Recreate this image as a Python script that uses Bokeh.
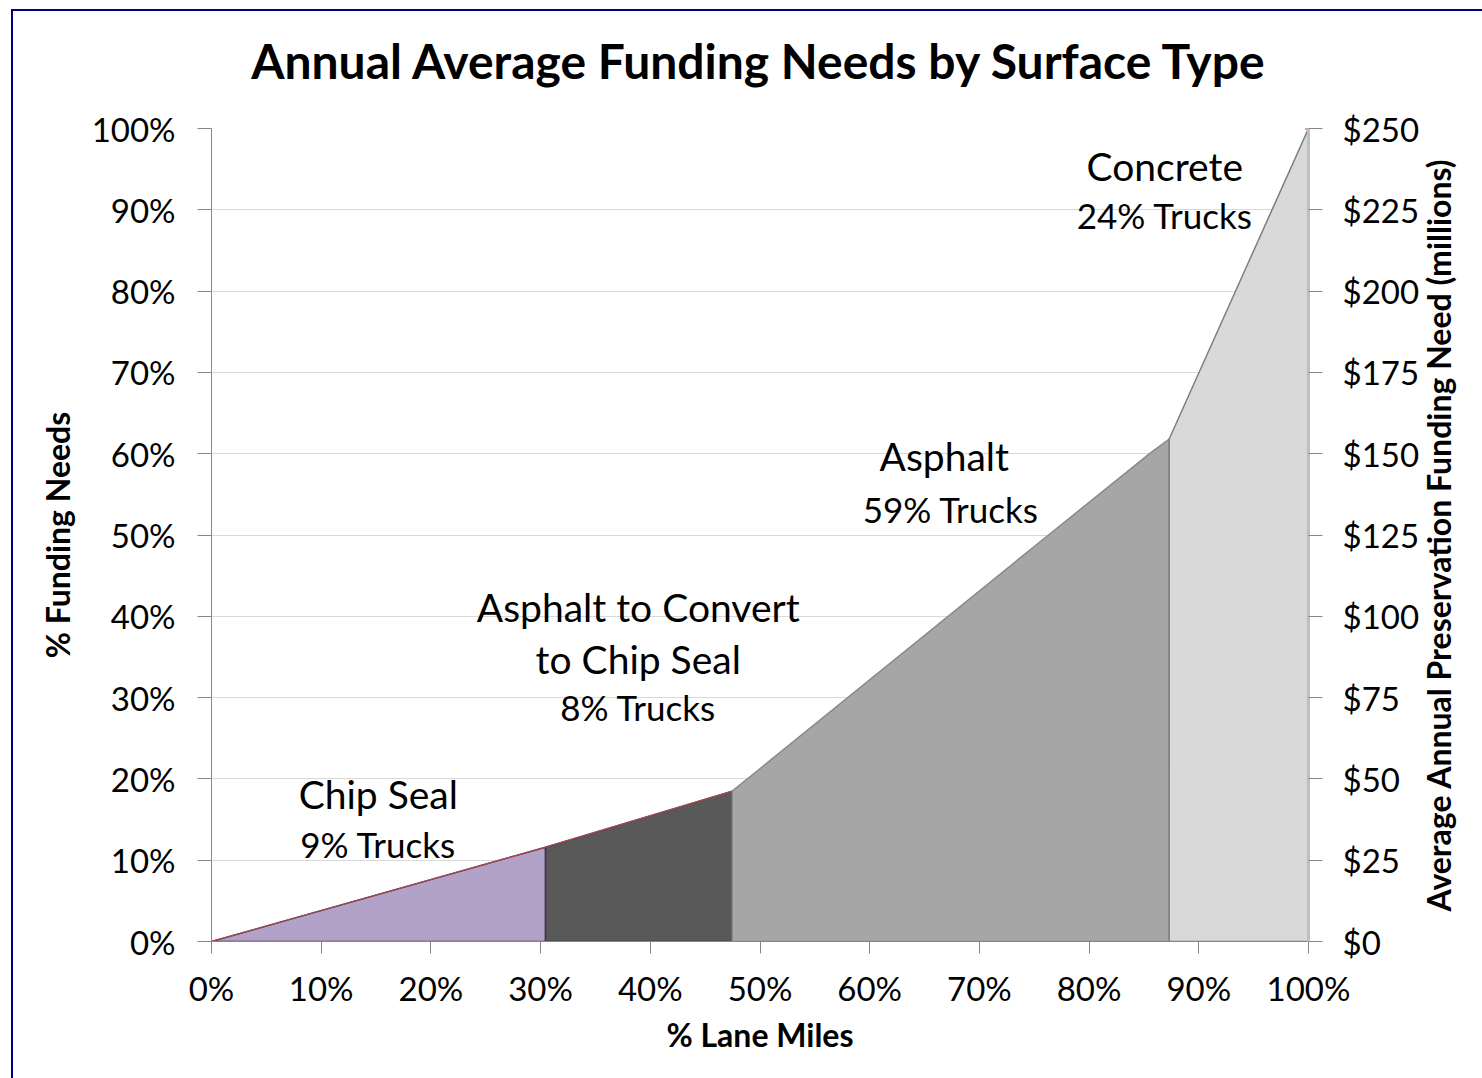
import math
from bokeh.plotting import figure
from bokeh.models import LinearAxis, Range1d, PrintfTickFormatter, NumeralTickFormatter, FixedTicker
from bokeh.core.properties import value
from bokeh.embed import file_html
from bokeh.resources import INLINE

# ---- data ----
chip_x = [0.0, 30.45]
chip_y = [0.0, 11.6]
convert_x = [30.45, 47.47]
convert_y = [11.6, 18.5]
asphalt_x = [47.47, 76.3, 85.6, 87.3]
asphalt_y = [18.5, 50.0, 60.1, 61.8]
concrete_x = [87.3, 100.0]
concrete_y = [61.8, 100.0]

pct_ticks = [0, 10, 20, 30, 40, 50, 60, 70, 80, 90, 100]
usd_ticks = [0, 25, 50, 75, 100, 125, 150, 175, 200, 225, 250]

labels_text = ["Chip Seal", "9% Trucks",
               "Asphalt to Convert", "to Chip Seal", "8% Trucks",
               "Asphalt", "59% Trucks",
               "Concrete", "24% Trucks"]
labels_x = [15.2, 15.2, 38.9, 38.9, 38.9, 66.8, 67.4, 86.9, 86.9]
labels_y = [18.1, 12.05, 41.2, 34.8, 28.8, 59.7, 53.2, 95.4, 89.4]

title_text = "Annual Average Funding Needs by Surface Type"
right_label_text = "Average Annual Preservation Funding Need (millions)"

FONT = "Lato"

p = figure(frame_width=1097, frame_height=813,
           x_range=Range1d(0, 100), y_range=Range1d(0, 100),
           output_backend="svg", toolbar_location=None,
           min_border_left=198, min_border_right=174,
           min_border_top=117, min_border_bottom=137)
p.margin = (9, 0, 0, 11)
p.styles = {"border-top": "2px solid #000080", "border-left": "2px solid #000080"}
p.outline_line_color = None
p.background_fill_color = "white"
p.border_fill_color = "white"

p.extra_y_ranges = {"usd": Range1d(0, 250)}

AX = "#868686"
for ax in (p.xaxis[0], p.yaxis[0]):
    ax.axis_line_color = AX
    ax.major_tick_line_color = AX
    ax.minor_tick_line_color = None
    ax.major_tick_in = 0
    ax.major_label_text_font = FONT
    ax.major_label_text_font_size = "33px"
    ax.major_label_text_color = "black"
    ax.axis_label_text_font = FONT
    ax.axis_label_text_font_style = "bold"
    ax.axis_label_text_font_size = "32px"
    ax.axis_label_text_color = "black"
    ax.ticker = FixedTicker(ticks=pct_ticks)
    ax.formatter = PrintfTickFormatter(format="%d%%")

p.xaxis[0].major_tick_out = 12
p.xaxis[0].major_label_standoff = 14
p.xaxis[0].axis_label = "% Lane Miles"
p.xaxis[0].axis_label_standoff = 4
p.yaxis[0].major_tick_out = 14
p.yaxis[0].major_label_standoff = 22
p.yaxis[0].axis_label = "% Funding Needs"
p.yaxis[0].axis_label_standoff = 12

ra = LinearAxis(y_range_name="usd", ticker=FixedTicker(ticks=usd_ticks),
                formatter=NumeralTickFormatter(format="$0"))
ra.axis_line_color = "#bfbfbf"
ra.axis_line_width = 3
ra.major_tick_line_color = AX
ra.minor_tick_line_color = None
ra.major_tick_in = 0
ra.major_tick_out = 14
ra.major_label_standoff = 20
ra.major_label_text_font = FONT
ra.major_label_text_font_size = "33px"
ra.major_label_text_color = "black"
ra.axis_label_text_font = FONT
ra.axis_label_text_font_style = "bold"
ra.axis_label_text_font_size = "32px"
ra.axis_label_text_color = "black"
if "axis_label_align" in LinearAxis.properties():
    # label starts near the bottom of the axis and reads upward
    ra.axis_label = "\u00a0\u00a0\u00a0\u00a0" + right_label_text
    ra.axis_label_align = "start"
    ra.axis_label_orientation = math.pi / 2
    ra.axis_label_standoff = 16
else:
    ra.axis_label = right_label_text
    ra.axis_label_standoff = 8
p.add_layout(ra, "right")

# title drawn as the label of an otherwise empty axis above the frame
ta = LinearAxis(ticker=FixedTicker(ticks=[]), axis_label=title_text)
ta.axis_line_color = None
ta.major_tick_line_color = None
ta.minor_tick_line_color = None
ta.major_label_text_font_size = "0px"
ta.axis_label_text_font = FONT
ta.axis_label_text_font_style = "bold"
ta.axis_label_text_font_size = "48px"
ta.axis_label_text_color = "black"
ta.axis_label_standoff = 40
p.add_layout(ta, "above")

p.xgrid.grid_line_color = None
p.ygrid.grid_line_color = "#d9d9d9"
p.ygrid.grid_line_width = 1
p.ygrid.ticker = FixedTicker(ticks=pct_ticks)


def poly(xs, ys):
    return list(xs) + [xs[-1], xs[0]], list(ys) + [0, 0]


px, py = poly(chip_x, chip_y)
p.patch(px, py, fill_color="#b3a2c7", line_color="#403152", line_width=1.5)
px, py = poly(convert_x, convert_y)
p.patch(px, py, fill_color="#595959", line_color="#403152", line_width=1.5)
px, py = poly(asphalt_x, asphalt_y)
p.patch(px, py, fill_color="#a6a6a6", line_color="#8a8a8a", line_width=1.5)
px, py = poly(concrete_x, concrete_y)
p.patch(px, py, fill_color="#d9d9d9", line_color="#7f7f7f", line_width=1.5)

p.line(chip_x + convert_x[1:], chip_y + convert_y[1:], line_color="#c0504d", line_width=1.2, line_alpha=0.8)
p.scatter([chip_x[0], concrete_x[-1]], [chip_y[0], concrete_y[-1]], marker="dash",
          size=7, line_color="#e03030", line_width=2)

sizes = ["39px", "35px", "39px", "39px", "35px", "39px", "35px", "39px", "35px"]
for t, x, y, s in zip(labels_text, labels_x, labels_y, sizes):
    p.text(x=[x], y=[y], text=[t], text_font=value(FONT), text_font_size=s,
           text_align="center", text_baseline="middle", text_color="black")

open("out.html", "w").write(file_html(p, INLINE))
